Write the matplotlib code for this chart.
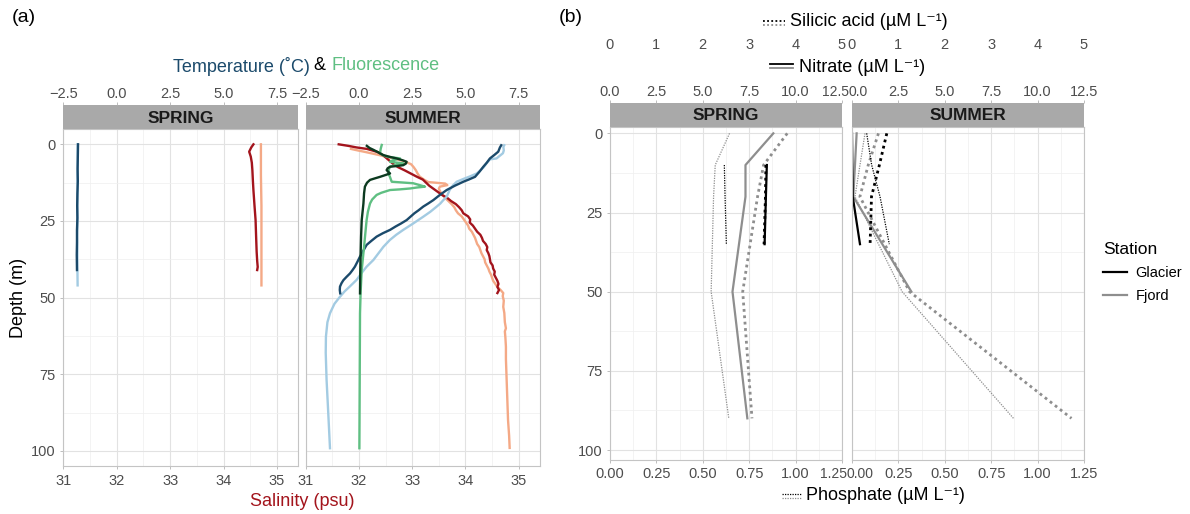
import numpy as np
import matplotlib
matplotlib.use("Agg")
import matplotlib.pyplot as plt
from matplotlib.lines import Line2D
from matplotlib.transforms import ScaledTranslation

plt.rcParams['font.family'] = ['Liberation Sans', 'DejaVu Sans']

# ---------------- (a) CTD profiles ----------------
# spring
spr_t_glac_depth = [0, 4, 8, 12, 16, 20, 24, 28, 32, 36, 41]
spr_t_glac = [-1.81, -1.82, -1.83, -1.82, -1.84, -1.85, -1.84, -1.86, -1.86, -1.87, -1.86]
spr_t_fjord_depth = [0, 5, 10, 15, 20, 25, 30, 35, 40, 46]
spr_t_fjord = [-1.83, -1.83, -1.84, -1.83, -1.84, -1.84, -1.85, -1.84, -1.84, -1.83]
spr_s_glac_depth = [0, 1, 2.4, 4, 6, 8.4, 12, 15, 20, 24.7, 30, 35, 38, 40, 41]
spr_s_glac = [34.56, 34.52, 34.48, 34.51, 34.53, 34.54, 34.55, 34.56, 34.58, 34.60, 34.61, 34.62, 34.63, 34.64, 34.63]
spr_s_fjord_depth = [0, 10, 20, 30, 40, 46]
spr_s_fjord = [34.70, 34.70, 34.71, 34.71, 34.71, 34.71]

# summer
sum_s_glac_depth = [0.0, 0.5, 1.0, 1.5, 2.5, 3.5, 5.0, 6.5, 7.5, 8.5, 9.5, 10.5, 11.5, 12.5, 13.5,
                    14.5, 15.5, 16.5, 17.5, 18.5, 19.5, 20.5, 21.5, 22.5, 23.5, 24.5, 25.5, 26.5,
                    27.5, 28.5, 29.5, 30.5, 31.5, 32.5, 33.5, 34.5, 35.5, 36.5, 37.5, 38.5, 39.5,
                    40.5, 41.5, 42.5, 43.5, 44.5, 45.5, 46.5, 47.5, 48.5]
sum_s_glac = [31.62, 31.80, 31.95, 32.15, 32.35, 32.45, 32.55, 32.65, 32.74, 32.86, 32.97, 33.08,
              33.20, 33.26, 33.32, 33.40, 33.48, 33.56, 33.66, 33.73, 33.82, 33.88, 33.93, 33.96,
              34.05, 34.09, 34.08, 34.14, 34.18, 34.22, 34.28, 34.31, 34.33, 34.38, 34.41, 34.40,
              34.43, 34.45, 34.46, 34.47, 34.51, 34.52, 34.55, 34.54, 34.57, 34.60, 34.62, 34.60,
              34.63, 34.60]
sum_s_fjord_depth = [1.5, 2.0, 2.5, 3.0, 3.5, 4.5, 5.5, 6.5, 7.5, 8.5, 9.5, 10.5, 11.5, 12.3, 12.8,
                     13.3, 13.8, 14.5, 15.5, 16.5, 17.5, 18.5, 19.5, 20.5, 21.5, 22.5, 23.5, 24.5,
                     25.5, 26.5, 27.5, 28.5, 29.5, 30.5, 31.5, 32.5, 33.5, 34.5, 35.5, 36.5, 37.5,
                     38.5, 39.5, 40.5, 41.5, 42.5, 43.5, 44.5, 45.5, 46.5, 47.5, 48.5, 49.5, 51,
                     53, 55, 58, 60, 61, 63, 66, 70, 75, 80, 85, 90, 95, 99]
sum_s_fjord = [31.85, 31.98, 32.12, 32.25, 32.38, 32.62, 32.85, 32.98, 33.03, 33.07, 33.10, 33.14,
               33.22, 33.30, 33.62, 33.66, 33.52, 33.50, 33.53, 33.57, 33.62, 33.68, 33.74, 33.79,
               33.82, 33.86, 33.93, 33.97, 34.01, 34.05, 34.07, 34.12, 34.15, 34.18, 34.20, 34.22,
               34.26, 34.28, 34.30, 34.33, 34.36, 34.37, 34.40, 34.43, 34.45, 34.48, 34.50, 34.52,
               34.56, 34.60, 34.66, 34.71, 34.70, 34.72, 34.71, 34.73, 34.74, 34.76, 34.74, 34.75,
               34.76, 34.76, 34.77, 34.78, 34.79, 34.80, 34.82, 34.83]
sum_t_glac_depth = [0.3, 1.0, 2.4, 3.5, 4.6, 6.0, 7.3, 9.0, 10.6, 11.5, 12.2, 13.5, 14.9, 16.5, 18.2,
                    19.3, 20.3, 21.5, 22.5, 23.6, 24.7, 25.8, 26.8, 27.9, 29.0, 30.1, 31.5, 32.8,
                    34.5, 36.6, 38.0, 39.9, 41.0, 42.1, 43.2, 44.3, 45.3, 46.4, 47.5, 48.6]
sum_t_glac = [6.68, 6.62, 6.54, 6.35, 6.15, 6.00, 5.84, 5.65, 5.45, 5.15, 4.90, 4.50, 4.12, 3.80,
              3.49, 3.25, 3.02, 2.80, 2.60, 2.42, 2.24, 1.98, 1.72, 1.46, 1.12, 0.83, 0.58, 0.36,
              0.22, 0.05, -0.05, -0.19, -0.30, -0.42, -0.58, -0.73, -0.82, -0.89, -0.90, -0.88]
sum_t_fjord_depth = [0.3, 0.8, 2.0, 2.9, 3.8, 4.6, 4.9, 6.2, 7.5, 8.5, 9.5, 10.5, 11.3, 12.2, 13.5,
                     15.0, 17.1, 18.2, 19.3, 20.3, 22.0, 23.6, 25.8, 27.9, 29.5, 31.2, 33.4, 35.5,
                     37.7, 39.9, 42.0, 44.2, 46.5, 48.0, 49.7, 52.0, 55.1, 58.0, 62.7, 68.0, 76.8,
                     85.0, 92.0, 99.1]
sum_t_fjord = [6.82, 6.78, 6.80, 6.76, 6.60, 6.46, 6.15, 5.99, 5.85, 5.70, 5.53, 5.20, 4.90, 4.59,
               4.40, 4.25, 4.12, 3.96, 3.82, 3.65, 3.35, 3.02, 2.55, 2.08, 1.75, 1.45, 1.15, 0.92,
               0.68, 0.36, 0.12, -0.11, -0.45, -0.68, -0.89, -1.15, -1.36, -1.48, -1.55, -1.56,
               -1.52, -1.46, -1.41, -1.36]
sum_f_glac_depth = [0.5, 1.2, 1.8, 2.6, 3.5, 4.1, 4.6, 5.2, 5.7, 6.3, 6.8, 7.1, 7.3, 7.8, 8.4, 9.0,
                    9.5, 10.0, 10.6, 11.1, 11.6, 12.5, 13.8, 16.0, 19.3, 24.7, 30.0, 35.5, 42.0, 48.6]
sum_f_glac = [0.37, 0.50, 0.68, 0.90, 1.14, 1.45, 1.77, 2.05, 2.24, 2.20, 2.08, 1.75, 1.46, 1.35,
              1.30, 1.38, 1.46, 1.25, 0.99, 0.75, 0.52, 0.38, 0.28, 0.24, 0.21, 0.13, 0.10, 0.08,
              0.06, 0.05]
sum_f_fjord_depth = [0.2, 1.5, 2.9, 3.5, 4.0, 4.6, 5.2, 5.7, 6.2, 6.8, 7.3, 8.3, 9.5, 10.5, 11.5,
                     12.2, 12.7, 13.3, 13.8, 14.1, 14.4, 14.7, 14.9, 15.8, 16.5, 18.0, 19.3, 22.0,
                     24.7, 29.0, 33.4, 41.0, 48.0, 55.1, 70.0, 85.0, 99.1]
sum_f_fjord = [1.07, 1.02, 0.99, 1.12, 1.30, 1.93, 1.60, 1.46, 2.08, 1.70, 1.46, 1.40, 1.38, 1.45,
               1.50, 1.54, 2.55, 2.85, 3.10, 2.70, 2.40, 1.90, 1.46, 1.05, 0.83, 0.62, 0.52, 0.42,
               0.36, 0.30, 0.24, 0.13, 0.08, 0.05, 0.04, 0.03, 0.02]

# ---------------- (b) nutrients ----------------
nut_depth_fjord = [0, 10, 20, 50, 90]
spr_nitrate_fjord = [8.8, 7.3, 7.3, 6.6, 7.4]
spr_silicic_fjord = [3.82, 3.31, 3.18, 2.86, 3.06]
spr_phosphate_fjord = [0.644, 0.567, 0.558, 0.545, 0.64]
sum_nitrate_fjord = [0.25, 0.16, 0.07, 3.2, np.nan]
sum_silicic_fjord = [0.57, 0.35, 0.17, 1.24, 4.73]
sum_phosphate_fjord = [0.07, 0.043, 0.016, 0.27, 0.87]

spr_depth_glac = [10, 20, 35]
spr_nitrate_glac = [8.45, 8.40, 8.33]
spr_silicic_glac = [3.36, 3.35, 3.32]
spr_phosphate_glac = [0.616, 0.62, 0.627]
sum_depth_glac = [0, 10, 20, 35]
sum_nitrate_glac = [0.0, 0.02, 0.04, 0.43]
sum_silicic_glac = [0.75, 0.59, 0.42, 0.39]
sum_phosphate_glac = [0.079, 0.106, 0.151, 0.201]

seasons = ['SPRING', 'SUMMER']
stations = ['Glacier', 'Fjord']

# colours
T_DARK, T_LIGHT = '#1b4a6b', '#a3cbe2'
S_DARK, S_LIGHT = '#a3141c', '#f4a986'
F_DARK, F_LIGHT = '#0c3a20', '#5fbf82'
GLAC_C, FJORD_C = '#000000', '#8e8e8e'
TICK_GRAY = '#4d4d4d'
STRIP_C = '#a9a9a9'
BORDER_C = '#c4c4c4'
LABEL_SIZE = 10.5

W, H = 1190, 514
fig = plt.figure(figsize=(W / 100, H / 100), dpi=100)


def px_axes(left, top, right, bottom):
    return fig.add_axes([left / W, 1 - bottom / H, (right - left) / W, (bottom - top) / H])


def nudge_edge_labels(ax, side, px, size):
    # the panels sit close together, so push the outer tick labels apart a little
    labels = ax.get_xticklabels()
    if side == 'left':
        lab, dx = labels[-1], -px
    else:
        lab, dx = labels[0], px
    lab.set_fontsize(size)
    lab.set_transform(lab.get_transform() + ScaledTranslation(dx / 100, 0, fig.dpi_scale_trans))


def style_panel(ax, xlim, ylim, xmaj, xmin, show_y):
    ax.set_xlim(xlim)
    ax.set_ylim(ylim)
    ax.set_xticks(xmaj)
    ax.set_xticks(xmin, minor=True)
    ax.set_yticks([0, 25, 50, 75, 100])
    ax.set_yticks([12.5, 37.5, 62.5, 87.5], minor=True)
    ax.grid(which='major', color='#e2e2e2', lw=0.8)
    ax.grid(which='minor', color='#efefef', lw=0.5)
    ax.set_axisbelow(True)
    for s in ax.spines.values():
        s.set_color(BORDER_C)
        s.set_linewidth(0.8)
    ax.tick_params(which='major', length=2.5, width=0.6, color='#b3b3b3',
                   labelsize=LABEL_SIZE, labelcolor=TICK_GRAY, pad=3)
    ax.tick_params(which='minor', length=0)
    if not show_y:
        ax.tick_params(axis='y', left=False, labelleft=False)


def strip(left, right, top, bottom, label, lim, ticks, labels):
    sax = px_axes(left, top, right, bottom)
    sax.set_facecolor(STRIP_C)
    for s in sax.spines.values():
        s.set_visible(False)
    sax.set_xlim(lim)
    sax.set_yticks([])
    sax.xaxis.tick_top()
    sax.set_xticks(ticks)
    sax.set_xticklabels(labels)
    sax.tick_params(axis='x', length=2.0, width=0.6, color='#b3b3b3',
                    labelsize=LABEL_SIZE, labelcolor=TICK_GRAY, pad=1.0)
    sax.text(0.5, 0.47, label, transform=sax.transAxes, ha='center', va='center',
             fontsize=12.5, fontweight='bold', color='#1a1a1a')
    return sax


# ---------------- panel (a) ----------------
a_cols = [(63.3, 298.3), (305.7, 540.0)]
temp_ticks = [-2.5, 0, 2.5, 5, 7.5]
temp_labels = ['\u22122.5', '0.0', '2.5', '5.0', '7.5']
a_axes = []
for i, (l, r) in enumerate(a_cols):
    ax = px_axes(l, 129.3, r, 466.0)
    style_panel(ax, (31, 35.4), (104.9, -4.9), [31, 32, 33, 34, 35],
                [31.5, 32.5, 33.5, 34.5], show_y=(i == 0))
    tax = ax.twiny()
    tax.set_xlim(-2.5, 8.5)
    tax.axis('off')
    a_axes.append((ax, tax))
    strip(l, r, 105.3, 129.3, seasons[i], (-2.5, 8.5), temp_ticks, temp_labels)

lw_a = 1.7
ax, tax = a_axes[0]
ax.plot(spr_s_fjord, spr_s_fjord_depth, color=S_LIGHT, lw=lw_a)
ax.plot(spr_s_glac, spr_s_glac_depth, color=S_DARK, lw=lw_a)
tax.plot(spr_t_fjord, spr_t_fjord_depth, color=T_LIGHT, lw=lw_a)
tax.plot(spr_t_glac, spr_t_glac_depth, color=T_DARK, lw=lw_a)

ax, tax = a_axes[1]
ax.plot(sum_s_fjord, sum_s_fjord_depth, color=S_LIGHT, lw=lw_a)
ax.plot(sum_s_glac, sum_s_glac_depth, color=S_DARK, lw=lw_a)
tax.plot(sum_t_fjord, sum_t_fjord_depth, color=T_LIGHT, lw=lw_a)
tax.plot(sum_t_glac, sum_t_glac_depth, color=T_DARK, lw=lw_a)
tax.plot(sum_f_fjord, sum_f_fjord_depth, color=F_LIGHT, lw=lw_a)
tax.plot(sum_f_glac, sum_f_glac_depth, color=F_DARK, lw=lw_a)

a_axes[0][0].set_ylabel('Depth (m)', fontsize=13, labelpad=3)
fig.text(302 / W, 1 - 502 / H, 'Salinity (psu)', color=S_DARK, fontsize=13,
         ha='center', va='center')

# two-colour title on top of (a)
renderer = fig.canvas.get_renderer()
parts = [('Temperature (\u02daC)', T_DARK), (' & ', 'black'), ('Fluorescence', F_LIGHT)]
pieces = [fig.text(0, 1 - 66 / H, txt, color=c, fontsize=13, va='center') for txt, c in parts]
widths = [p.get_window_extent(renderer).width for p in pieces]
x = 306 - sum(widths) / 2
for p, w in zip(pieces, widths):
    p.set_x(x / W)
    x += w

fig.text(24 / W, 1 - 18 / H, '(a)', fontsize=14, ha='center', va='center')
fig.text(571 / W, 1 - 18 / H, '(b)', fontsize=14, ha='center', va='center')

# ---------------- panel (b) ----------------
b_cols = [(610.0, 842.0), (852.0, 1084.0)]
nit_ticks = [0, 2.5, 5, 7.5, 10, 12.5]
phos_ticks = [0, 0.25, 0.5, 0.75, 1.0, 1.25]
b_axes = []
for i, (l, r) in enumerate(b_cols):
    side = 'left' if i == 0 else 'right'
    ax = px_axes(l, 126.7, r, 459.5)
    style_panel(ax, (0, 1.25), (103.0, -2.1), phos_ticks,
                [0.125, 0.375, 0.625, 0.875, 1.125], show_y=(i == 0))
    ax.set_xticklabels(['0.00', '0.25', '0.50', '0.75', '1.00', '1.25'])
    nudge_edge_labels(ax, side, 8, 10)
    b_axes.append(ax)
    sax = strip(l, r, 102.7, 126.7, seasons[i], (0, 12.5), nit_ticks,
                ['0.0', '2.5', '5.0', '7.5', '10.0', '12.5'])
    nudge_edge_labels(sax, side, 6, 10)
    # silicic acid axis floating above the nitrate one
    sil = px_axes(l, 53, r, 54)
    sil.set_xlim(0, 5)
    sil.set_yticks([])
    for s in sil.spines.values():
        s.set_visible(False)
    sil.patch.set_alpha(0)
    sil.xaxis.tick_top()
    sil.set_xticks([0, 1, 2, 3, 4, 5])
    sil.tick_params(axis='x', length=0, labelsize=LABEL_SIZE, labelcolor=TICK_GRAY, pad=1)

dash_sil = (0, (1.0, 1.3))
dot_phos = (0, (1.0, 1.0))


def nutrients(ax, depth, nit, sil, phos, color):
    ax.plot(np.array(sil) / 4, depth, color=color, lw=2.0, ls=dash_sil)
    ax.plot(phos, depth, color=color, lw=0.9, ls=dot_phos)
    ax.plot(np.array(nit) / 10, depth, color=color, lw=1.6)


nutrients(b_axes[0], nut_depth_fjord, spr_nitrate_fjord, spr_silicic_fjord, spr_phosphate_fjord, FJORD_C)
nutrients(b_axes[0], spr_depth_glac, spr_nitrate_glac, spr_silicic_glac, spr_phosphate_glac, GLAC_C)
nutrients(b_axes[1], nut_depth_fjord, sum_nitrate_fjord, sum_silicic_fjord, sum_phosphate_fjord, FJORD_C)
nutrients(b_axes[1], sum_depth_glac, sum_nitrate_glac, sum_silicic_glac, sum_phosphate_glac, GLAC_C)


# axis titles with their line keys (black = glacier, grey = fjord)
def key(x0, x1, y, ls, lw):
    for dy, c in ((-2.3, GLAC_C), (2.3, FJORD_C)):
        fig.add_artist(Line2D([x0 / W, x1 / W], [1 - (y + dy) / H, 1 - (y + dy) / H],
                              transform=fig.transFigure, color=c, lw=lw, ls=ls))


key(763, 785, 23, dash_sil, 1.3)
fig.text(790 / W, 1 - 22 / H, 'Silicic acid (\u00b5M L\u207b\u00b9)', fontsize=13, va='center')
key(770, 793, 66, '-', 1.3)
fig.text(799 / W, 1 - 67 / H, 'Nitrate (\u00b5M L\u207b\u00b9)', fontsize=13, va='center')
key(782, 802, 496, dot_phos, 0.9)
fig.text(806 / W, 1 - 496 / H, 'Phosphate (\u00b5M L\u207b\u00b9)', fontsize=13, va='center')

handles = [Line2D([], [], color=GLAC_C, lw=1.6), Line2D([], [], color=FJORD_C, lw=1.6)]
leg = fig.legend(handles, stations, title='Station', loc='upper left',
                 bbox_to_anchor=(1099 / W, 1 - 238 / H), frameon=False, fontsize=10.5,
                 title_fontsize=12.5, handlelength=1.6, handletextpad=0.6, labelspacing=0.6,
                 alignment='left', borderaxespad=0, borderpad=0.3)

fig.savefig('out.png', dpi=100)
